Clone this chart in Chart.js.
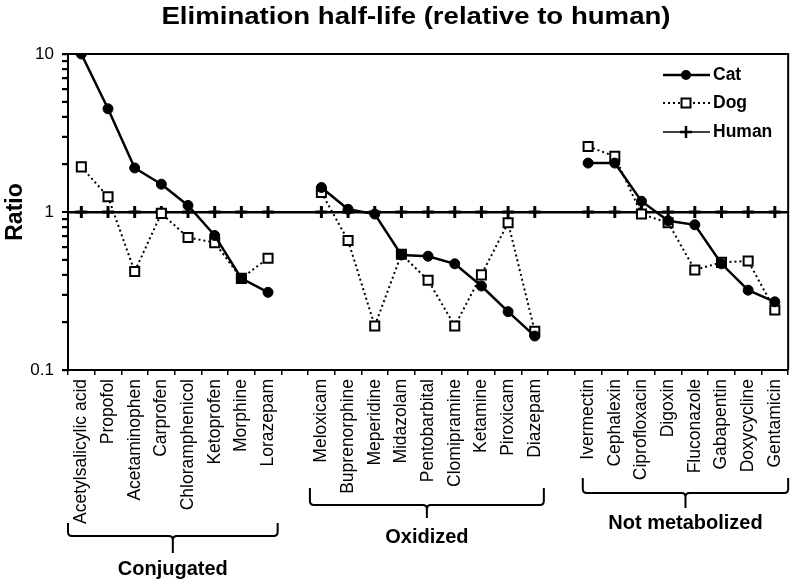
<!DOCTYPE html>
<html>
<head>
<meta charset="utf-8">
<title>Elimination half-life</title>
<script src="https://cdn.jsdelivr.net/npm/chart.js@4/dist/chart.umd.min.js"></script>
<style>
  html, body { margin: 0; padding: 0; background: #fff; }
  canvas { display: block; }
</style>
</head>
<body>
<canvas id="halfLifeChart" width="800" height="585"></canvas>
<script>
// drug names, '' marks the gap between groups
const drugs = [
    "Acetylsalicylic acid", "Propofol", "Acetaminophen", "Carprofen", "Chloramphenicol", "Ketoprofen", "Morphine", "Lorazepam",
    "",
    "Meloxicam", "Buprenorphine", "Meperidine", "Midazolam", "Pentobarbital", "Clomipramine", "Ketamine", "Piroxicam", "Diazepam",
    "",
    "Ivermectin", "Cephalexin", "Ciprofloxacin", "Digoxin", "Fluconazole", "Gabapentin", "Doxycycline", "Gentamicin"
];

const catRatio = [10, 4.5, 1.9, 1.5, 1.1, 0.71, 0.38, 0.31, null,
    1.43, 1.04, 0.97, 0.535, 0.525, 0.47, 0.34, 0.234, 0.164, null,
    2.04, 2.04, 1.17, 0.88, 0.83, 0.47, 0.32, 0.27];

const dogRatio = [1.93, 1.25, 0.42, 0.98, 0.69, 0.64, 0.38, 0.51, null,
    1.33, 0.66, 0.19, 0.54, 0.37, 0.19, 0.40, 0.855, 0.176, null,
    2.6, 2.25, 0.97, 0.855, 0.43, 0.48, 0.49, 0.24];

const humanRatio = [1, 1, 1, 1, 1, 1, 1, 1, null,
    1, 1, 1, 1, 1, 1, 1, 1, 1, null,
    1, 1, 1, 1, 1, 1, 1, 1];

const groupNames = ["Conjugated", "Oxidized", "Not metabolized"];
const groupStart = [0, 9, 19];
const groupEnd = [7, 17, 26];

// y tick marks (log axis) and the ones that get a label
const yTicks = [0.1, 0.2, 0.3, 0.4, 0.5, 0.6, 0.7, 0.8, 0.9, 1, 2, 3, 4, 5, 6, 7, 8, 9, 10];
const yLabels = [0.1, 1, 10];

const FONT = "'Liberation Sans', Arial, sans-serif";

// bracket layout per group: left/right offset in slots, then y levels
const bracketLayout = [
    { l: -0.5, r: 0.36, top: 523, bar: 536, tip: 553, ty: 569 },
    { l: -0.43, r: 0.34, top: 488, bar: 505, tip: 518, ty: 537 },
    { l: -0.2, r: 0.5, top: 478, bar: 493, tip: 508, ty: 523 }
];

function near(a, b) {
    return Math.abs(a - b) < 1e-9;
}

const extras = {
    id: 'extras',
    afterDraw(chart) {
        const ctx = chart.ctx;
        const area = chart.chartArea;
        const x = chart.scales.x;
        const y = chart.scales.y;
        ctx.save();
        ctx.strokeStyle = '#000';
        ctx.fillStyle = '#000';

        // frame top + right
        ctx.lineWidth = 2;
        ctx.beginPath();
        ctx.moveTo(area.left, area.top);
        ctx.lineTo(area.right, area.top);
        ctx.lineTo(area.right, area.bottom);
        ctx.stroke();

        // minor + major tick marks on the log axis
        const top = y.getPixelForValue(10);
        const bottom = y.getPixelForValue(0.1);
        yTicks.forEach(v => {
            const py = bottom + (top - bottom) * Math.log10(v * 10) / 2;
            ctx.fillRect(area.left - 6, Math.round(py) - 1, 6, 2);
        });

        // title (a bit wide in the original)
        ctx.font = "bold 24px " + FONT;
        ctx.textAlign = 'center';
        ctx.textBaseline = 'middle';
        ctx.save();
        ctx.translate(416, 17);
        ctx.scale(1.15, 1);
        ctx.fillText("Elimination half-life (relative to human)", 0, 0);
        ctx.restore();

        // group braces
        const slot = x.getPixelForValue(1) - x.getPixelForValue(0);
        groupNames.forEach((name, i) => {
            const b = bracketLayout[i];
            const left = x.getPixelForValue(groupStart[i]) + b.l * slot;
            const right = x.getPixelForValue(groupEnd[i]) + b.r * slot;
            const mid = (left + right) / 2;
            const r = 4;
            ctx.lineWidth = 2;
            ctx.beginPath();
            ctx.moveTo(left, b.top);
            ctx.lineTo(left, b.bar - r);
            ctx.quadraticCurveTo(left, b.bar, left + r, b.bar);
            ctx.lineTo(mid - r, b.bar);
            ctx.quadraticCurveTo(mid, b.bar, mid, b.bar + r);
            ctx.lineTo(mid, b.tip);
            ctx.moveTo(mid, b.bar + r);
            ctx.quadraticCurveTo(mid, b.bar, mid + r, b.bar);
            ctx.lineTo(right - r, b.bar);
            ctx.quadraticCurveTo(right, b.bar, right, b.bar - r);
            ctx.lineTo(right, b.top);
            ctx.stroke();

            ctx.font = "bold 20px " + FONT;
            ctx.fillText(name, mid, b.ty);
        });

        // legend
        const items = [
            { label: 'Cat', y: 75, dash: [], width: 2.5, marker: 'circle' },
            { label: 'Dog', y: 103, dash: [2, 3], width: 2, marker: 'square' },
            { label: 'Human', y: 132, dash: [], width: 1.5, marker: 'cross' }
        ];
        items.forEach(it => {
            const x0 = 663, x1 = 710, cx = 686;
            ctx.setLineDash(it.dash);
            ctx.lineWidth = it.width;
            ctx.beginPath();
            ctx.moveTo(x0, it.y);
            ctx.lineTo(x1, it.y);
            ctx.stroke();
            ctx.setLineDash([]);
            if (it.marker === 'circle') {
                ctx.beginPath();
                ctx.arc(cx, it.y, 5, 0, Math.PI * 2);
                ctx.fill();
            } else if (it.marker === 'square') {
                ctx.fillStyle = '#fff';
                ctx.fillRect(cx - 4.5, it.y - 4.5, 9, 9);
                ctx.fillStyle = '#000';
                ctx.lineWidth = 2;
                ctx.strokeRect(cx - 4.5, it.y - 4.5, 9, 9);
            } else {
                ctx.lineWidth = 2.5;
                ctx.beginPath();
                ctx.moveTo(cx - 6, it.y);
                ctx.lineTo(cx + 6, it.y);
                ctx.moveTo(cx, it.y - 6);
                ctx.lineTo(cx, it.y + 6);
                ctx.stroke();
            }
            ctx.font = "bold 17.5px " + FONT;
            ctx.textAlign = 'left';
            ctx.fillText(it.label, 713, it.y);
            ctx.textAlign = 'center';
        });

        ctx.restore();
    }
};

new Chart(document.getElementById("halfLifeChart"), {
    type: 'line',
    data: {
        labels: drugs,
        datasets: [
            {
                label: 'Cat',
                data: catRatio,
                borderColor: '#000',
                borderWidth: 2.5,
                pointStyle: 'circle',
                pointRadius: 5,
                pointBackgroundColor: '#000',
                pointBorderColor: '#000',
                pointBorderWidth: 1,
                order: 1
            },
            {
                label: 'Dog',
                data: dogRatio,
                borderColor: '#000',
                borderWidth: 2,
                borderDash: [2, 3],
                pointStyle: 'rect',
                pointRadius: 6.4,
                pointBackgroundColor: '#fff',
                pointBorderColor: '#000',
                pointBorderWidth: 2,
                order: 2
            },
            {
                label: 'Human',
                data: humanRatio,
                borderColor: '#000',
                borderWidth: 1.5,
                pointStyle: 'cross',
                pointRadius: 6,
                pointBorderColor: '#000',
                pointBorderWidth: 3,
                order: 3
            }
        ]
    },
    options: {
        responsive: false,
        animation: false,
        layout: { padding: { top: 54, left: 2, right: 8, bottom: 0 } },
        plugins: {
            legend: { display: false },
            tooltip: { enabled: false }
        },
        scales: {
            x: {
                type: 'category',
                offset: true,
                border: { display: true, color: '#000', width: 2 },
                grid: { offset: true, drawOnChartArea: false, color: '#000', tickLength: 5, lineWidth: 1.5 },
                ticks: {
                    autoSkip: false,
                    minRotation: 90,
                    maxRotation: 90,
                    padding: 4,
                    color: '#000',
                    font: { family: FONT, size: 17.5 }
                },
                afterFit: s => { s.height = 215; }
            },
            y: {
                type: 'logarithmic',
                min: 0.1,
                max: 10,
                border: { display: true, color: '#000', width: 2 },
                grid: {
                    drawOnChartArea: true,
                    color: c => (c.tick && near(c.tick.value, 1)) ? '#000' : 'rgba(0,0,0,0)',
                    lineWidth: c => (c.tick && near(c.tick.value, 1)) ? 2.5 : 1,
                    tickColor: '#000',
                    tickWidth: 1.5,
                    tickLength: 6
                },
                afterBuildTicks: s => {
                    s.ticks = yTicks.map(v => ({ value: v, major: yLabels.some(t => near(t, v)) }));
                },
                ticks: {
                    autoSkip: false,
                    source: 'data',
                    padding: 8,
                    color: '#000',
                    font: { family: FONT, size: 17 },
                    callback: v => yLabels.some(t => near(t, v)) ? String(v) : ''
                },
                title: {
                    display: true,
                    text: 'Ratio',
                    color: '#000',
                    font: { family: FONT, size: 23, weight: 'bold' },
                    padding: { top: 0, bottom: 0 }
                },
                afterFit: s => { s.width = 66; }
            }
        }
    },
    plugins: [extras]
});
</script>
</body>
</html>
